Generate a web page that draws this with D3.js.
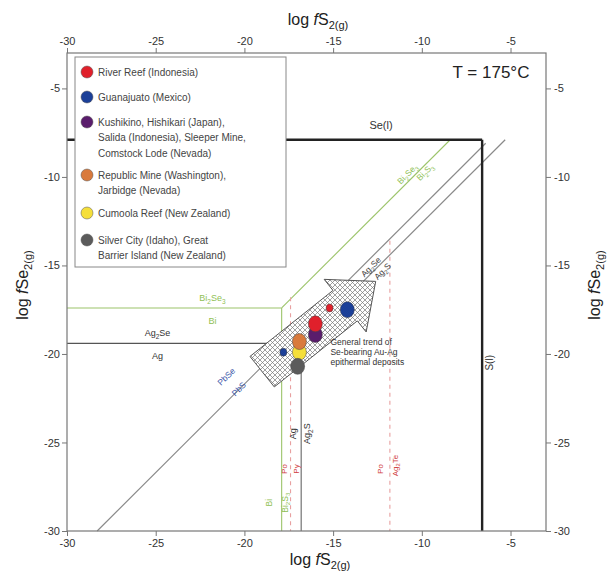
<!DOCTYPE html>
<html>
<head>
<meta charset="utf-8">
<script src="https://cdn.jsdelivr.net/npm/d3@7"></script>
<style>
  body { margin: 0; background: #fff; }
  svg { font-family: "Liberation Sans", Arial, sans-serif; }
</style>
</head>
<body>
<div id="chart"></div>
<script>
// axis ticks (log fS2 and log fSe2 share the same range)
var xTicks = [-30, -25, -20, -15, -10, -5];
var yTicks = [-30, -25, -20, -15, -10, -5];

// legend / deposit groups
var siteNames = [
  ["River Reef (Indonesia)"],
  ["Guanajuato (Mexico)"],
  ["Kushikino, Hishikari (Japan),", "Salida (Indonesia), Sleeper Mine,", "Comstock Lode (Nevada)"],
  ["Republic Mine (Washington),", "Jarbidge (Nevada)"],
  ["Cumoola Reef (New Zealand)"],
  ["Silver City (Idaho), Great", "Barrier Island (New Zealand)"]
];
var siteColors = ["#e0202b", "#1b3f98", "#5a1d6c", "#d97a3c", "#f5df3a", "#5b5b5b"];

// plotted deposits (log fS2, log fSe2)
var ptSite = [4, 3, 2, 0, 0, 1, 1, 5];
var ptS2   = [-16.9, -16.9, -16.0, -16.0, -15.2, -14.2, -17.8, -17.0];
var ptSe2  = [-19.9, -19.3, -18.9, -18.3, -17.4, -17.5, -19.9, -20.7];
var ptBig  = [1, 1, 1, 1, 0, 1, 0, 1];

// boundaries
var seLiq  = [[-30, -7.9], [-6.6, -7.9]];      // Se(l)
var sLiq   = [[-6.6, -7.9], [-6.6, -30]];      // S(l)
var pbLine = [[-28.3, -30], [-6.4, -8.1]];     // PbSe / PbS
var agSeS  = [[-16.8, -19.4], [-5.3, -7.9]];   // Ag2Se / Ag2S
var agSe   = [[-30, -19.4], [-16.8, -19.4]];   // Ag2Se / Ag
var agS    = [[-16.8, -19.4], [-16.8, -30]];   // Ag2S / Ag
var biSeS  = [[-17.9, -17.4], [-8.4, -7.9]];   // Bi2Se3 / Bi2S3
var biSe   = [[-30, -17.4], [-17.9, -17.4]];   // Bi2Se3 / Bi
var biS    = [[-17.9, -17.4], [-17.9, -30]];   // Bi / Bi2S3
var dash1  = [[-17.4, -16.8], [-17.4, -30]];
var dash2  = [[-11.8, -13.6], [-11.8, -30]];

// general trend arrow: tail, tip (log fS2, log fSe2), half widths
var trendTail = [-19.0, -21.0];
var trendTip  = [-12.6, -15.9];
var trendShaft = 1.1, trendHead = 1.9, trendHeadLen = 2.2;

var W = 616, H = 571;
var m = {left: 67, right: 70, top: 53, bottom: 40};

var svg = d3.select("#chart").append("svg")
    .attr("width", W).attr("height", H);

var x = d3.scaleLinear().domain([-30, -3]).range([m.left, W - m.right]);
var y = d3.scaleLinear().domain([-30, -3]).range([H - m.bottom, m.top]);

// hatch pattern
var defs = svg.append("defs");
var pat = defs.append("pattern")
    .attr("id", "hatch").attr("patternUnits", "userSpaceOnUse")
    .attr("width", 5).attr("height", 5);
pat.append("rect").attr("width", 5).attr("height", 5).attr("fill", "#fff");
pat.append("path").attr("d", "M0,0 L5,5 M5,0 L0,5")
    .attr("stroke", "#777").attr("stroke-width", 0.7);

function chem(sel, s, size) {
  var parts = s.match(/\d+|[^\d]+/g);
  var down = false;
  parts.forEach(function(p) {
    var isNum = /^\d+$/.test(p);
    var t = sel.append("tspan").text(p);
    if (isNum && !down) { t.attr("dy", size * 0.3).attr("font-size", size * 0.72); down = true; }
    else if (!isNum && down) { t.attr("dy", -size * 0.3); down = false; }
  });
}

var line = d3.line().x(function(d) { return x(d[0]); }).y(function(d) { return y(d[1]); });

function seg(pts, color, w, dash) {
  var p = svg.append("path").attr("d", line(pts))
      .attr("fill", "none").attr("stroke", color).attr("stroke-width", w);
  if (dash) p.attr("stroke-dasharray", dash);
  return p;
}

// boundary lines
seg(pbLine, "#8a8a8a", 1.2);
seg(agSeS, "#8a8a8a", 1.2);
seg(agSe, "#555", 1.1);
seg(agS, "#666", 1.1);
seg(biSeS, "#9cc46a", 1.1);
seg(biSe, "#9cc46a", 1.1);
seg(biS, "#9cc46a", 1.1);
seg(dash1, "#e8a0a0", 1.1, "4,4");
seg(dash2, "#e8a0a0", 1.1, "4,4");
seg(seLiq, "#222", 2.4);
seg(sLiq, "#222", 2.4);

// trend arrow polygon, derived from tail/tip and widths
(function() {
  var tx = trendTail[0], ty = trendTail[1], hx = trendTip[0], hy = trendTip[1];
  var dx = hx - tx, dy = hy - ty, L = Math.sqrt(dx * dx + dy * dy);
  var ux = dx / L, uy = dy / L, nx = -uy, ny = ux;
  var bx = hx - ux * trendHeadLen, by = hy - uy * trendHeadLen;
  var pts = [
    [tx + nx * trendShaft, ty + ny * trendShaft],
    [bx + nx * trendShaft, by + ny * trendShaft],
    [bx + nx * trendHead, by + ny * trendHead],
    [hx, hy],
    [bx - nx * trendHead, by - ny * trendHead],
    [bx - nx * trendShaft, by - ny * trendShaft],
    [tx - nx * trendShaft, ty - ny * trendShaft]
  ];
  svg.append("path").attr("d", line(pts) + "Z")
      .attr("fill", "url(#hatch)").attr("stroke", "#555").attr("stroke-width", 1);
})();

// deposit markers
svg.selectAll("ellipse.pt").data(ptS2).enter().append("ellipse")
    .attr("class", "pt")
    .attr("cx", function(d) { return x(d); })
    .attr("cy", function(d, i) { return y(ptSe2[i]); })
    .attr("rx", function(d, i) { return ptBig[i] ? 7 : 3.5; })
    .attr("ry", function(d, i) { return ptBig[i] ? 8 : 4; })
    .attr("fill", function(d, i) { return siteColors[ptSite[i]]; })
    .attr("stroke", "#444").attr("stroke-width", 0.5);

// labels
function label(px, py, txt, color, size, rot, anchor) {
  var t = svg.append("text")
      .attr("transform", "translate(" + px + "," + py + ")" + (rot ? " rotate(" + rot + ")" : ""))
      .attr("text-anchor", anchor || "middle")
      .attr("fill", color).attr("font-size", size);
  chem(t, txt, size);
  return t;
}
label(x(-12.3), y(-7.3), "Se(l)", "#333", 11);
label(x(-6.0), y(-20.5), "S(l)", "#333", 10, -90);
label(x(-24.9), y(-19.0), "Ag2Se", "#333", 9);
label(x(-24.9), y(-20.3), "Ag", "#333", 9);
label(x(-21.8), y(-17.0), "Bi2Se3", "#8fbf55", 9);
label(x(-21.8), y(-18.3), "Bi", "#8fbf55", 9);
label(x(-10.7), y(-9.95), "Bi2Se3", "#8fbf55", 8.5, -45);
label(x(-9.7), y(-9.85), "Bi2S3", "#8fbf55", 8.5, -45);
label(x(-12.75), y(-15.2), "Ag2Se", "#444", 8.5, -45);
label(x(-12.1), y(-15.45), "Ag2S", "#444", 8.5, -45);
label(x(-20.9), y(-21.4), "PbSe", "#3a55a8", 8.5, -45);
label(x(-20.2), y(-22.1), "PbS", "#3a55a8", 8.5, -45);
label(x(-17.1), y(-24.5), "Ag", "#333", 9, -90);
label(x(-16.3), y(-24.5), "Ag2S", "#333", 9, -90);
label(x(-18.45), y(-28.4), "Bi", "#8fbf55", 8.5, -90);
label(x(-17.55), y(-28.4), "Bi2S3", "#8fbf55", 8.5, -90);
label(x(-17.6), y(-26.5), "Po", "#d04040", 8, -90);
label(x(-16.95), y(-26.5), "Py", "#d04040", 8, -90);
label(x(-12.2), y(-26.5), "Po", "#d04040", 8, -90);
label(x(-11.35), y(-26.3), "Ag2Te", "#d04040", 8, -90);

var trend = svg.append("text").attr("x", x(-15.15)).attr("y", y(-19.5))
    .attr("font-size", 8.5).attr("fill", "#333");
["General trend of", "Se-bearing Au-Ag", "epithermal deposits"].forEach(function(s, i) {
  trend.append("tspan").attr("x", x(-15.15)).attr("dy", i ? 10 : 0).text(s);
});

// frame
svg.append("rect").attr("x", x(-30)).attr("y", y(-3))
    .attr("width", x(-3) - x(-30)).attr("height", y(-30) - y(-3))
    .attr("fill", "none").attr("stroke", "#777").attr("stroke-width", 1.2);

// axes
var fmt = function(d) { return String(d); };
function styleAxis(g) {
  g.select(".domain").remove();
  g.selectAll(".tick line").attr("stroke", "#777");
  g.selectAll(".tick text").attr("font-size", 11).attr("fill", "#333")
    .attr("font-family", "Liberation Sans, Arial, sans-serif");
}
svg.append("g").attr("transform", "translate(0," + y(-30) + ")")
    .call(d3.axisBottom(x).tickValues(xTicks).tickFormat(fmt).tickSize(5).tickPadding(3)).call(styleAxis);
svg.append("g").attr("transform", "translate(0," + y(-3) + ")")
    .call(d3.axisTop(x).tickValues(xTicks).tickFormat(fmt).tickSize(5).tickPadding(3)).call(styleAxis);
svg.append("g").attr("transform", "translate(" + x(-30) + ",0)")
    .call(d3.axisLeft(y).tickValues(yTicks).tickFormat(fmt).tickSize(5).tickPadding(2)).call(styleAxis);
svg.append("g").attr("transform", "translate(" + x(-3) + ",0)")
    .call(d3.axisRight(y).tickValues(yTicks).tickFormat(fmt).tickSize(5).tickPadding(3)).call(styleAxis);

// axis titles
function axisTitle(px, py, species, rot) {
  var t = svg.append("text")
      .attr("transform", "translate(" + px + "," + py + ")" + (rot ? " rotate(" + rot + ")" : ""))
      .attr("text-anchor", "middle").attr("font-size", 16).attr("fill", "#222");
  t.append("tspan").text("log ");
  t.append("tspan").attr("font-style", "italic").text("f");
  t.append("tspan").text(species);
  t.append("tspan").attr("font-size", 11).attr("dy", 4).text("2(g)");
}
axisTitle(320, 565, "S");
axisTitle(318, 25, "S");
axisTitle(28, 285, "Se", -90);
axisTitle(600, 285, "Se", -90);

svg.append("text").attr("x", x(-6.1)).attr("y", y(-4.4))
    .attr("text-anchor", "middle").attr("font-size", 17).attr("fill", "#222")
    .text("T = 175\u00b0C");

// legend
var lg = svg.append("g").attr("transform", "translate(75,57)");
lg.append("rect").attr("width", 211).attr("height", 210)
    .attr("fill", "#fff").attr("stroke", "#888").attr("stroke-width", 1);
var rowY = [15, 40, 65, 118, 156, 183];
siteNames.forEach(function(lines, i) {
  lg.append("circle").attr("cx", 12).attr("cy", rowY[i]).attr("r", 6)
      .attr("fill", siteColors[i]).attr("stroke", "#555").attr("stroke-width", 0.5);
  var t = lg.append("text").attr("x", 23).attr("y", rowY[i] + 3.5)
      .attr("font-size", 10).attr("fill", "#444");
  lines.forEach(function(s, j) {
    t.append("tspan").attr("x", 23).attr("dy", j ? 15.5 : 0).text(s);
  });
});
</script>
</body>
</html>
